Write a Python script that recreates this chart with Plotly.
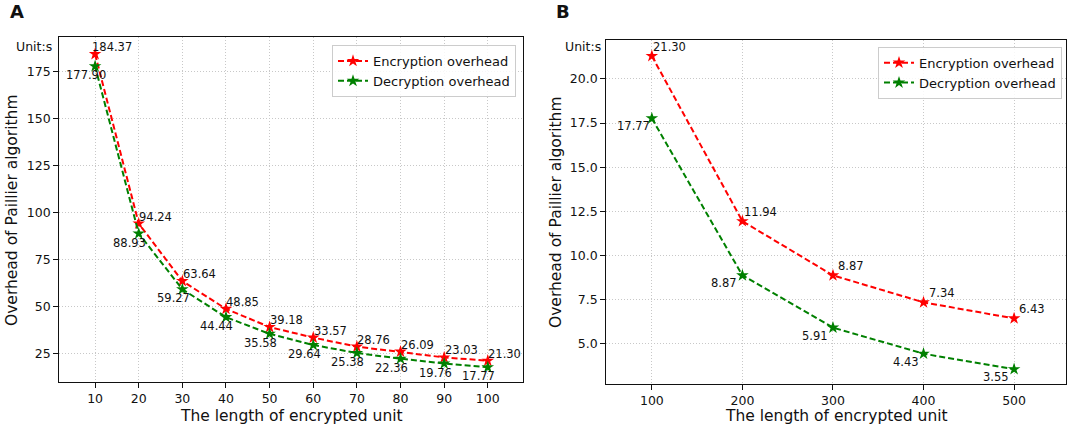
import plotly.graph_objects as go

# ---- data ----
x_a = [10, 20, 30, 40, 50, 60, 70, 80, 90, 100]
enc_a = [184.37, 94.24, 63.64, 48.85, 39.18, 33.57, 28.76, 26.09, 23.03, 21.30]
dec_a = [177.90, 88.93, 59.27, 44.44, 35.58, 29.64, 25.38, 22.36, 19.76, 17.77]

x_b = [100, 200, 300, 400, 500]
enc_b = [21.30, 11.94, 8.87, 7.34, 6.43]
dec_b = [17.77, 8.87, 5.91, 4.43, 3.55]

yticks_a = [25, 50, 75, 100, 125, 150, 175]
yticks_b = [5.0, 7.5, 10.0, 12.5, 15.0, 17.5, 20.0]

series_names = ["Encryption overhead", "Decryption overhead"]
x_title = "The length of encrypted unit"
y_title = "Overhead of Paillier algorithm"
unit_label = "Unit:s"

RED = "#ff0000"
GREEN = "#008000"
FONT = "DejaVu Sans"
W, H = 1072, 431

fig = go.Figure()

def add_series(x, y, name, color, xa, ya, legend, show):
    fig.add_trace(go.Scatter(
        x=x, y=y, name=name, mode="lines+markers",
        line=dict(color=color, width=2, dash="6px,3px"),
        marker=dict(symbol="star", size=9.5, color=color, line=dict(width=0)),
        xaxis=xa, yaxis=ya, legend=legend, showlegend=show,
    ))

add_series(x_a, enc_a, series_names[0], RED, "x", "y", "legend", True)
add_series(x_a, dec_a, series_names[1], GREEN, "x", "y", "legend", True)
add_series(x_b, enc_b, series_names[0], RED, "x2", "y2", "legend2", True)
add_series(x_b, dec_b, series_names[1], GREEN, "x2", "y2", "legend2", True)

ann = []
def label(x, y, xr, yr, xs, ys):
    ann.append(dict(x=x, y=y, xref=xr, yref=yr, text=f"{y:.2f}", showarrow=False,
                    xanchor="center", yanchor="middle", xshift=xs, yshift=ys,
                    font=dict(family=FONT, size=11.5, color="#111")))

for xv, yv in zip(x_a, enc_a):
    label(xv, yv, "x", "y", 17, 7)
for xv, yv in zip(x_a, dec_a):
    label(xv, yv, "x", "y", -9, -9)
for xv, yv in zip(x_b, enc_b):
    label(xv, yv, "x2", "y2", 18, 9)
for xv, yv in zip(x_b, dec_b):
    label(xv, yv, "x2", "y2", -18, -8)

def paper_text(text, px, py, size, xanchor="center", angle=0, bold=False):
    ann.append(dict(x=px / W, y=1 - py / H, xref="paper", yref="paper",
                    text=(f"<b>{text}</b>" if bold else text), showarrow=False,
                    xanchor=xanchor, yanchor="middle", textangle=angle,
                    font=dict(family=FONT, size=size, color="#111")))

# panel letters
paper_text("A", 17, 11.5, 18, bold=True)
paper_text("B", 563, 11.5, 18, bold=True)
# unit labels
paper_text(unit_label, 54, 46.7, 12.5, xanchor="right")
paper_text(unit_label, 603, 46.7, 12.5, xanchor="right")
# axis titles
paper_text(x_title, 291, 416, 15.5)
paper_text(x_title, 836, 416, 15.5)
paper_text(y_title, 12, 210, 15.5, angle=-90)
paper_text(y_title, 556, 212, 15.5, angle=-90)

axis_common = dict(
    showline=True, linecolor="#111", linewidth=1.3, mirror=True,
    ticks="outside", ticklen=5, tickwidth=1, tickcolor="#111",
    showgrid=True, gridcolor="#c8c8c8", gridwidth=1, griddash="1px,2px",
    zeroline=False, automargin=False,
    tickfont=dict(family=FONT, size=12.5, color="#111"),
)

fig.update_layout(
    width=W, height=H,
    margin=dict(l=0, r=0, t=0, b=0),
    paper_bgcolor="white", plot_bgcolor="white",
    font=dict(family=FONT, color="#111"),
    xaxis=dict(domain=[59.3 / W, 522.7 / W], range=[1.8, 108.0],
               tickmode="array", tickvals=x_a, anchor="y", **axis_common),
    yaxis=dict(domain=[(H - 382.3) / H, (H - 37.3) / H], range=[9.8, 193.3],
               tickmode="array", tickvals=yticks_a, anchor="x", **axis_common),
    xaxis2=dict(domain=[606.3 / W, 1065.7 / W], range=[49.7, 557.0],
                tickmode="array", tickvals=x_b, anchor="y2", **axis_common),
    yaxis2=dict(domain=[(H - 383.7) / H, (H - 40) / H], range=[2.73, 22.21],
                tickmode="array", tickvals=yticks_b, tickformat=".1f",
                anchor="x2", **axis_common),
    legend=dict(x=516 / W, y=1 - 45 / H, xanchor="right", yanchor="top",
                bgcolor="rgba(255,255,255,0.85)", bordercolor="#cccccc",
                borderwidth=1, font=dict(family=FONT, size=13, color="#111"),
                itemwidth=30, tracegroupgap=0),
    legend2=dict(x=1062 / W, y=1 - 46.7 / H, xanchor="right", yanchor="top",
                 bgcolor="rgba(255,255,255,0.85)", bordercolor="#cccccc",
                 borderwidth=1, font=dict(family=FONT, size=13, color="#111"),
                 itemwidth=30, tracegroupgap=0),
    annotations=ann,
    showlegend=True,
)

fig.write_html("out.html", config={"displayModeBar": False},
               post_script="document.body.style.margin='0';document.body.style.padding='0';")
